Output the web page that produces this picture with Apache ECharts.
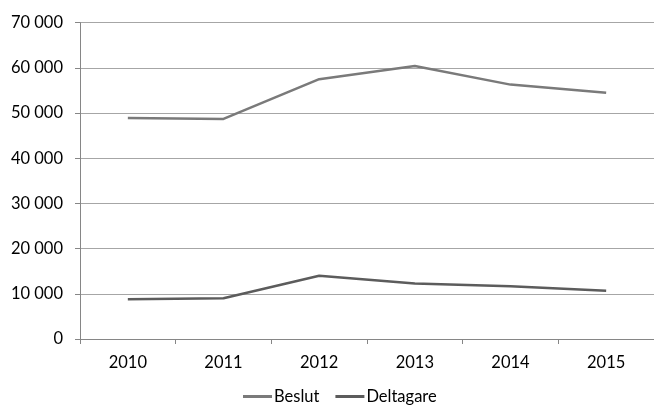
<!DOCTYPE html>
<html><head><meta charset="utf-8">
<script src="https://cdn.jsdelivr.net/npm/echarts@6/dist/echarts.min.js"></script>
<style>html,body{margin:0;padding:0;background:#fff}#c{width:654px;height:406px}</style>
</head><body><div id="c"></div>
<script>
const years = ['2010','2011','2012','2013','2014','2015'];
const beslut = [48900, 48700, 57500, 60400, 56300, 54500];
const deltagare = [8800, 9000, 14000, 12300, 11700, 10700];
const yTicks = {min: 0, max: 70000, interval: 10000};

const chart = echarts.init(document.getElementById('c'));
const font = 'Lato, "Open Sans", sans-serif';
chart.setOption({
  animation: false,
  textStyle: {fontFamily: font},
  grid: {left: 80, right: -8, top: 22.7, bottom: 67},
  legend: {
    bottom: 0, left: 243, padding: [0, 5, 1, 0], itemWidth: 29, itemHeight: 3, icon: 'rect', itemGap: 16,
    textStyle: {fontSize: 16.5, color: '#000', fontFamily: font, padding: [0, 0, 0, -3]},
    data: ['Beslut', 'Deltagare']
  },
  xAxis: {
    type: 'category', data: years, boundaryGap: true,
    axisLine: {lineStyle: {color: '#868686', width: 1}},
    axisTick: {show: true, length: 5, lineStyle: {color: '#868686'}},
    axisLabel: {fontSize: 16.5, color: '#000', margin: 15, fontFamily: font}
  },
  yAxis: {
    type: 'value', min: yTicks.min, max: yTicks.max, interval: yTicks.interval,
    axisLine: {show: true, lineStyle: {color: '#868686'}},
    axisTick: {show: true, length: 5, lineStyle: {color: '#868686'}},
    splitLine: {lineStyle: {color: '#a6a6a6'}},
    axisLabel: {fontSize: 16.5, color: '#000', margin: 17, fontFamily: font,
      formatter: v => String(v).replace(/\B(?=(\d{3})+(?!\d))/g, ' ')}
  },
  series: [
    {name: 'Beslut', type: 'line', data: beslut, symbol: 'none',
     lineStyle: {color: '#7a7a7a', width: 2.5}, itemStyle: {color: '#7a7a7a'}},
    {name: 'Deltagare', type: 'line', data: deltagare, symbol: 'none',
     lineStyle: {color: '#5c5c5c', width: 2.5}, itemStyle: {color: '#5c5c5c'}}
  ]
});
</script></body></html>
